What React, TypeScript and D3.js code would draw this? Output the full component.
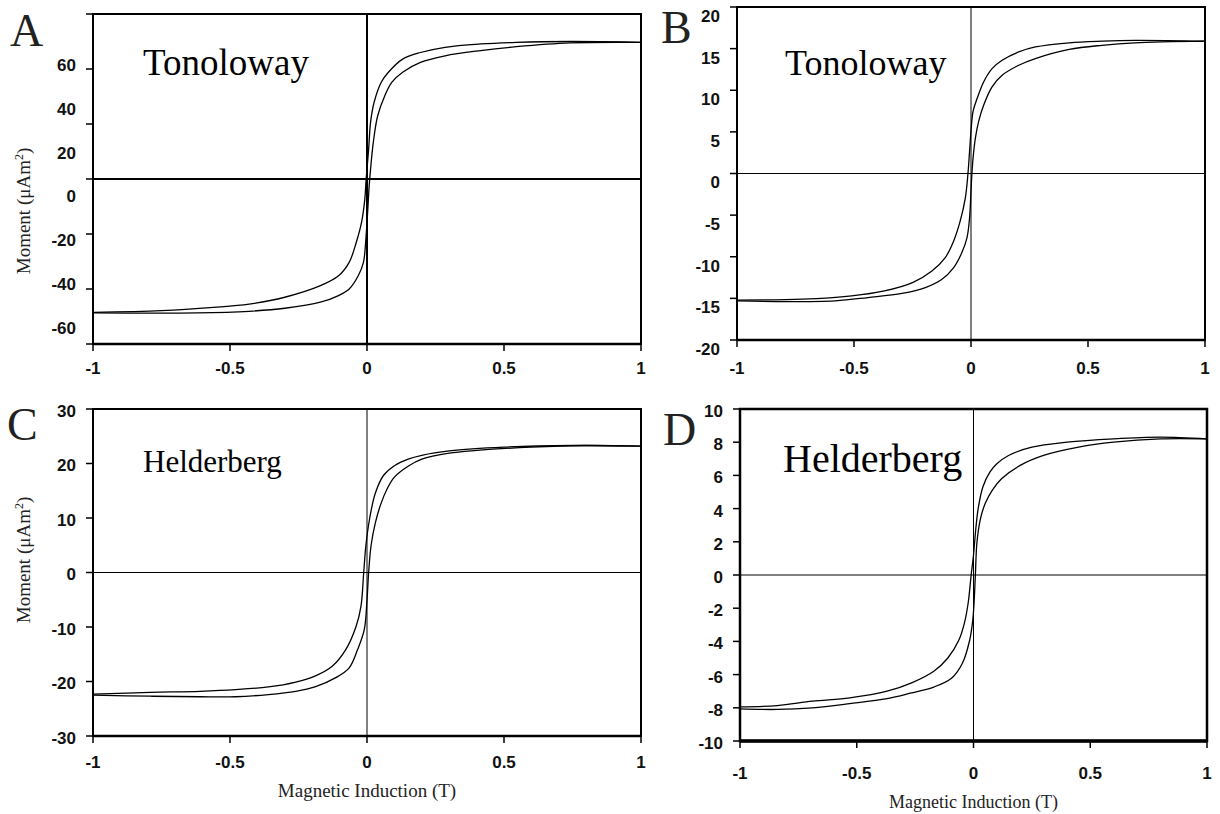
import * as d3 from 'd3'

// hysteresis loops: [field (T), moment (µAm²)]
// "upper" = descending branch, "lower" = ascending branch
const tonolowayAUpper: [number, number][] = [
  [-1, -48.5], [-0.75, -47.9], [-0.56, -46.7], [-0.43, -45.5], [-0.3, -43], [-0.17, -38.8],
  [-0.104, -35.2], [-0.065, -30.3], [-0.039, -23], [-0.02, -15.8], [-0.008, -7.3], [-0.003, 0],
  [0.006, 10.9], [0.013, 20.6], [0.026, 27.9], [0.052, 35.2], [0.078, 38.8], [0.13, 43.6],
  [0.195, 46], [0.285, 47.9], [0.415, 49.1], [0.545, 49.7], [0.74, 50], [1, 49.7],
]
const tonolowayALower: [number, number][] = [
  [-1, -48.7], [-0.62, -48.7], [-0.43, -48.1], [-0.3, -47], [-0.17, -44.8], [-0.104, -42.4],
  [-0.065, -40], [-0.032, -35.2], [-0.013, -30.3], [-0.005, -23], [0.003, -10.9], [0.008, -2.4],
  [0.013, 3.6], [0.023, 13.3], [0.039, 23], [0.065, 30.3], [0.091, 35.2], [0.13, 38.8],
  [0.195, 42.4], [0.285, 44.8], [0.415, 46.7], [0.545, 48.1], [0.74, 49.5], [1, 49.7],
]

const tonolowayBUpper: [number, number][] = [
  [-1, -15.2], [-0.72, -15.1], [-0.51, -14.7], [-0.37, -14.1], [-0.25, -13.1], [-0.167, -11.7],
  [-0.11, -10.1], [-0.074, -8.1], [-0.046, -5.7], [-0.024, -2.9], [-0.013, 0], [-0.006, 2.7],
  [0, 5.1], [0.009, 7.5], [0.026, 9.0], [0.054, 11.0], [0.09, 12.6], [0.133, 13.6],
  [0.204, 14.6], [0.275, 15.2], [0.42, 15.7], [0.56, 15.9], [0.7, 16.0], [1, 15.9],
]
const tonolowayBLower: [number, number][] = [
  [-1, -15.3], [-0.79, -15.4], [-0.58, -15.3], [-0.44, -14.9], [-0.295, -14.4], [-0.195, -13.7],
  [-0.124, -12.7], [-0.074, -11.3], [-0.039, -9.5], [-0.017, -7.7], [-0.006, -5.3], [0, -2.1],
  [0.004, 0], [0.009, 1.9], [0.019, 4.3], [0.033, 6.3], [0.054, 8.2], [0.09, 10.4],
  [0.133, 11.8], [0.204, 13.0], [0.275, 13.8], [0.42, 14.9], [0.56, 15.4], [0.7, 15.7], [1, 15.9],
]

const helderbergCUpper: [number, number][] = [
  [-1, -22.3], [-0.79, -22.0], [-0.61, -21.8], [-0.48, -21.5], [-0.36, -21.0], [-0.26, -20.1],
  [-0.19, -19.0], [-0.127, -17.2], [-0.077, -14.1], [-0.04, -9.9], [-0.022, -6.2], [-0.012, 0],
  [-0.004, 5], [0.01, 10], [0.03, 14.5], [0.06, 17.8], [0.1, 19.6], [0.15, 20.8],
  [0.2, 21.5], [0.3, 22.3], [0.5, 23.0], [0.75, 23.3], [1, 23.2],
]
const helderbergCLower: [number, number][] = [
  [-1, -22.5], [-0.79, -22.7], [-0.61, -22.8], [-0.48, -22.8], [-0.36, -22.4], [-0.26, -21.8],
  [-0.19, -21.0], [-0.114, -19.3], [-0.065, -17.5], [-0.034, -14.1], [-0.01, -10.5], [0, -5],
  [0.006, 0], [0.015, 5], [0.03, 9], [0.05, 12.5], [0.075, 15.5], [0.1, 17.5],
  [0.15, 19.5], [0.2, 20.8], [0.3, 21.9], [0.4, 22.4], [0.6, 23.0], [0.8, 23.3], [1, 23.2],
]

const helderbergDUpper: [number, number][] = [
  [-1, -7.95], [-0.84, -7.87], [-0.69, -7.6], [-0.53, -7.4], [-0.37, -7.0], [-0.265, -6.5],
  [-0.17, -5.8], [-0.11, -5.0], [-0.062, -3.9], [-0.039, -2.9], [-0.023, -1.7], [-0.01, 0],
  [0, 1.2], [0.01, 2.8], [0.02, 4.0], [0.04, 5.3], [0.07, 6.2], [0.1, 6.7],
  [0.15, 7.2], [0.25, 7.7], [0.4, 8.0], [0.6, 8.2], [0.8, 8.3], [1, 8.2],
]
const helderbergDLower: [number, number][] = [
  [-1, -8.07], [-0.84, -8.1], [-0.69, -8.0], [-0.53, -7.75], [-0.37, -7.45], [-0.265, -7.1],
  [-0.17, -6.75], [-0.093, -6.2], [-0.047, -5.3], [-0.016, -3.9], [-0.003, -2.7], [0.003, -1.5],
  [0.008, 0], [0.015, 2.0], [0.03, 3.4], [0.05, 4.3], [0.08, 5.1], [0.12, 5.8],
  [0.2, 6.6], [0.3, 7.2], [0.45, 7.7], [0.6, 8.0], [0.8, 8.2], [1, 8.2],
]

const xTicks = [-1, -0.5, 0, 0.5, 1]
const yTicksA = [-60, -40, -20, 0, 20, 40, 60]
const yTicksB = [-20, -15, -10, -5, 0, 5, 10, 15, 20]
const yTicksC = [-30, -20, -10, 0, 10, 20, 30]
const yTicksD = [-10, -8, -6, -4, -2, 0, 2, 4, 6, 8, 10]

const SANS = "'Liberation Sans', Arial, Helvetica, sans-serif"
const SERIF = "'Liberation Serif', 'Times New Roman', serif"

type PanelProps = {
  letter: string
  letterX: number
  letterY: number
  name: string
  nameX: number
  nameY: number
  nameSize: number
  left: number
  right: number
  top: number
  bottom: number
  yDomain: [number, number]
  yTicks: number[]
  // where the tick labels sit (the printed figure has them a bit off the ticks)
  labelY: (v: number, y: number) => number
  xLabelY: number
  zeroWidth: number
  frameWidth: number
  bottomWidth: number
  upper: [number, number][]
  lower: [number, number][]
  yTitleY?: number
  xTitleY?: number
  xTitleSize?: number
}

function Panel(p: PanelProps) {
  const x = d3.scaleLinear().domain([-1, 1]).range([p.left, p.right])
  const y = d3.scaleLinear().domain(p.yDomain).range([p.bottom, p.top])
  const line = d3
    .line<[number, number]>()
    .x((d) => x(d[0]))
    .y((d) => y(d[1]))
    .curve(d3.curveCatmullRom.alpha(0.5))
  const labelEnd = p.left - 17

  return (
    <g>
      <text x={p.letterX} y={p.letterY} fontFamily={SERIF} fontSize={46} fill="#222">
        {p.letter}
      </text>
      <text x={p.nameX} y={p.nameY} fontFamily={SERIF} fontSize={p.nameSize} fill="#000">
        {p.name}
      </text>

      {/* zero lines */}
      <line x1={p.left} x2={p.right} y1={y(0)} y2={y(0)} stroke="#000" strokeWidth={p.zeroWidth} />
      <line x1={x(0)} x2={x(0)} y1={p.top} y2={p.bottom} stroke="#000" strokeWidth={p.zeroWidth} />

      {/* loops */}
      <path d={line(p.upper) ?? ''} fill="none" stroke="#000" strokeWidth={1.3} />
      <path d={line(p.lower) ?? ''} fill="none" stroke="#000" strokeWidth={1.3} />

      {/* frame */}
      <rect
        x={p.left}
        y={p.top}
        width={p.right - p.left}
        height={p.bottom - p.top}
        fill="none"
        stroke="#000"
        strokeWidth={p.frameWidth}
      />
      <line x1={p.left} x2={p.right} y1={p.bottom} y2={p.bottom} stroke="#000" strokeWidth={p.bottomWidth} />

      {/* y axis */}
      {p.yTicks.map((v) => (
        <g key={'y' + v}>
          <line x1={p.left - 7} x2={p.left} y1={y(v)} y2={y(v)} stroke="#000" strokeWidth={1.5} />
          <text
            x={labelEnd}
            y={p.labelY(v, y(v))}
            dy="0.35em"
            textAnchor="end"
            fontFamily={SANS}
            fontWeight="bold"
            fontSize={17}
            fill="#111"
          >
            {v}
          </text>
        </g>
      ))}

      {/* x axis */}
      {xTicks.map((v) => (
        <g key={'x' + v}>
          <line x1={x(v)} x2={x(v)} y1={p.bottom} y2={p.bottom + 7} stroke="#000" strokeWidth={1.5} />
          <text
            x={x(v)}
            y={p.xLabelY}
            dy="0.35em"
            textAnchor="middle"
            fontFamily={SANS}
            fontWeight="bold"
            fontSize={17}
            fill="#111"
          >
            {v}
          </text>
        </g>
      ))}

      {p.yTitleY !== undefined && (
        <text
          transform={`translate(${p.left - 70},${p.yTitleY}) rotate(-90)`}
          textAnchor="middle"
          dy="0.35em"
          fontFamily={SERIF}
          fontSize={19}
          fill="#222"
        >
          Moment (μAm
          <tspan dy={-7} fontSize={12}>2</tspan>
          <tspan dy={7}>)</tspan>
        </text>
      )}
      {p.xTitleY !== undefined && (
        <text
          x={x(0)}
          y={p.xTitleY}
          dy="0.35em"
          textAnchor="middle"
          fontFamily={SERIF}
          fontSize={p.xTitleSize ?? 18}
          fill="#222"
        >
          Magnetic Induction (T)
        </text>
      )}
    </g>
  )
}

export default function App() {
  const labelScaleA = d3.scaleLinear().domain([-60, 60]).range([328, 65])

  return (
    <svg
      width={1220}
      height={814}
      style={{ position: 'absolute', left: 0, top: 0, background: '#fff' }}
    >
      <Panel
        letter="A" letterX={10} letterY={46}
        name="Tonoloway" nameX={143} nameY={75} nameSize={37}
        left={93} right={641} top={14} bottom={344}
        yDomain={[-60, 60]} yTicks={yTicksA}
        labelY={(v) => labelScaleA(v)}
        xLabelY={368}
        zeroWidth={2} frameWidth={2} bottomWidth={2.5}
        upper={tonolowayAUpper} lower={tonolowayALower}
        yTitleY={211}
      />
      <Panel
        letter="B" letterX={661} letterY={43}
        name="Tonoloway" nameX={785} nameY={75} nameSize={36}
        left={737} right={1205} top={7} bottom={340}
        yDomain={[-20, 20]} yTicks={yTicksB}
        labelY={(_, py) => py + 9}
        xLabelY={368}
        zeroWidth={1} frameWidth={2} bottomWidth={2.5}
        upper={tonolowayBUpper} lower={tonolowayBLower}
      />
      <Panel
        letter="C" letterX={7} letterY={440}
        name="Helderberg" nameX={143} nameY={472} nameSize={31}
        left={93} right={641} top={409} bottom={736}
        yDomain={[-30, 30]} yTicks={yTicksC}
        labelY={(_, py) => py + 2}
        xLabelY={762}
        zeroWidth={1} frameWidth={2} bottomWidth={2.5}
        upper={helderbergCUpper} lower={helderbergCLower}
        yTitleY={560} xTitleY={790} xTitleSize={19}
      />
      <Panel
        letter="D" letterX={663} letterY={445}
        name="Helderberg" nameX={783} nameY={472} nameSize={40}
        left={740} right={1207} top={409} bottom={741}
        yDomain={[-10, 10]} yTicks={yTicksD}
        labelY={(_, py) => py + 2}
        xLabelY={773}
        zeroWidth={1} frameWidth={2.5} bottomWidth={3.5}
        upper={helderbergDUpper} lower={helderbergDLower}
        xTitleY={802} xTitleSize={18}
      />
    </svg>
  )
}
